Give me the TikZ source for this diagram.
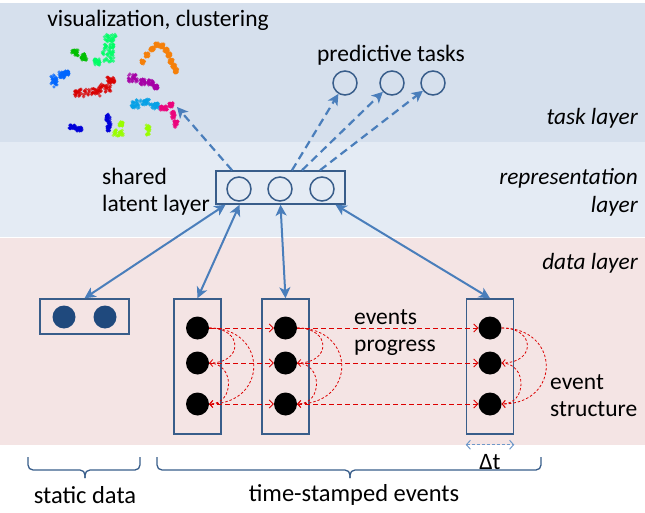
\documentclass[tikz,border=0pt]{standalone}
\usepackage{fontspec}
\setmainfont{Carlito}
\usetikzlibrary{arrows.meta}

\definecolor{taskbg}{RGB}{214,224,237}
\definecolor{reprbg}{RGB}{228,235,244}
\definecolor{databg}{RGB}{244,228,228}
\definecolor{boxblue}{RGB}{56,93,138}
\definecolor{arrowblue}{RGB}{74,126,187}
\definecolor{navy}{RGB}{31,73,125}
\definecolor{evred}{RGB}{220,0,0}

% small scatter clump: colour, x, y (downwards), x-spread, y-spread
\newcommand\clump[5]{%
  \foreach \k in {1,...,30}{%
    \pgfmathsetmacro\dx{#4*rand}%
    \pgfmathsetmacro\dy{#5*rand}%
    \fill[#1,opacity=0.7] (#2+\dx,-#3+\dy) circle (1.8);}}

\tikzset{
  unit/.style={circle, draw=boxblue, line width=1.5pt, minimum size=24pt, inner sep=0},
  staticdot/.style={circle, fill=navy, minimum size=23pt, inner sep=0},
  eventdot/.style={circle, fill=black, minimum size=23pt, inner sep=0},
  frame/.style={draw=boxblue, line width=1.5pt, inner sep=0},
  link/.style={arrowblue, line width=2pt,
    {Stealth[length=11pt,width=11pt,inset=3pt]}-{Stealth[length=11pt,width=11pt,inset=3pt]}},
  taskarrow/.style={arrowblue, line width=2.2pt, dash pattern=on 8pt off 5pt,
    -{Stealth[length=11pt,width=11pt,inset=3pt]}},
  progressarrow/.style={evred, line width=0.9pt, dash pattern=on 5pt off 3pt,
    -{Straight Barb[length=4pt,width=8pt]}},
  structarc/.style={evred, line width=0.8pt, dash pattern=on 2.5pt off 2pt,
    -{Straight Barb[length=3pt,width=7pt]}},
  dtarrow/.style={arrowblue!80, line width=1pt, dash pattern=on 3pt off 2pt,
    {Straight Barb[length=4pt,width=9pt]}-{Straight Barb[length=4pt,width=9pt]}},
  bracket/.style={boxblue, line width=1.3pt, rounded corners=5pt},
  lbl/.style={font=\fontsize{23.5}{27}\selectfont, inner sep=0},
  biglbl/.style={font=\fontsize{24.5}{27}\selectfont, inner sep=0},
  layerlbl/.style={font=\fontsize{23.3}{28}\selectfont\itshape, inner sep=0, align=right, anchor=east},
}

\begin{document}
\begin{tikzpicture}[x=1pt,y=1pt]
\useasboundingbox (0,0) rectangle (645,-513);

% layer bands
\fill[taskbg] (0,-3) rectangle (645,-142);
\fill[reprbg] (0,-142) rectangle (645,-237);
\fill[databg] (0,-238) rectangle (645,-445);

% layer names
\node[layerlbl] (ltask) at (638,-118) {task layer};
\node[layerlbl] (lrepr) at (638,-192) {representation\\layer};
\node[layerlbl] (ldata) at (638,-263) {data layer};

% embedding scatter
\pgfmathsetseed{7}
\clump{green!75!black}{75}{53}{4}{3}
\clump{green!75!black}{84}{57}{3}{3}
\clump{green!60!cyan}{110}{38}{6}{4}
\clump{green!60!cyan}{109}{48}{5}{4}
\clump{green!60!cyan}{108}{57}{6}{5}
\clump{green!60!cyan}{97}{62}{3}{3}
\foreach \p/\q in {143/62,147/55,152/49,157/45,162/46,166/50,169/55,171/61,174/66,176/71}{
  \clump{orange!85!brown}{\p}{\q}{2}{2}}
\clump{blue!60!cyan}{54}{81}{3}{6}
\clump{blue!60!cyan}{62}{75}{3}{3}
\clump{blue!60!cyan}{67}{73}{2}{2}
\clump{red!85!black}{80}{93}{6}{4}
\clump{red!85!black}{94}{92}{6}{4}
\clump{red!85!black}{105}{88}{6}{4}
\clump{red!85!black}{111}{80}{4}{3}
\clump{violet!70!magenta}{133}{78}{5}{4}
\clump{violet!70!magenta}{143}{82}{3}{3}
\clump{violet!70!magenta}{151}{83}{3}{3}
\clump{violet!70!magenta}{156}{87}{2}{2}
\clump{cyan!90!blue}{135}{104}{4}{4}
\clump{cyan!90!blue}{145}{102}{5}{3}
\clump{cyan!90!blue}{155}{106}{4}{3}
\clump{magenta!85!red}{164}{108}{4}{2}
\clump{magenta!85!red}{171}{105}{2}{2}
\clump{magenta!85!red}{173}{115}{2}{4}
\clump{magenta!85!red}{176}{124}{2}{3}
\clump{blue!85!black}{72}{127}{3}{2}
\clump{blue!85!black}{79}{129}{3}{2}
\clump{blue!85!black}{108}{118}{2}{4}
\clump{blue!85!black}{109}{127}{2}{4}
\clump{lime!80!green}{118}{133}{5}{3}
\clump{lime!80!green}{121}{124}{2}{2}
\clump{lime!80!green}{148}{130}{2}{5}

\node[lbl] (vislbl) at (158,-20) {visualization, clustering};
\coordinate (visend) at (177,-107);

% predictive tasks
\node[lbl] (predlbl) at (391,-55) {predictive tasks};
\node[unit] (t1) at (345,-83) {};
\node[unit] (t2) at (392,-83) {};
\node[unit] (t3) at (433,-83) {};

% shared latent layer
\node[frame, minimum width=129pt, minimum height=33pt] (latent) at (280.5,-187.5) {};
\node[unit] (h1) at (239,-189) {};
\node[unit] (h2) at (280,-189) {};
\node[unit] (h3) at (322,-189) {};
\node[lbl, anchor=west, align=left] (sharedlbl) at (102,-192) {shared\\latent layer};

\draw[taskarrow] ([xshift=-48.5pt]latent.north) -- (visend);
\draw[taskarrow] ([xshift=11.5pt]latent.north) -- (t1);
\draw[taskarrow] ([xshift=21.5pt]latent.north) -- (t2);
\draw[taskarrow] ([xshift=39.5pt]latent.north) -- (t3);

% static data
\node[frame, minimum width=89pt, minimum height=35pt] (static) at (84.5,-316.5) {};
\node[staticdot] (s1) at (64,-317) {};
\node[staticdot] (s2) at (105,-317) {};

% time-stamped event columns
\foreach \c/\x in {1/197.5,2/285.5,3/490}{
  \node[frame, minimum width=47pt, minimum height=135pt] (col\c) at (\x,-366.5) {};
  \node[eventdot] (e\c a) at (\x,-328) {};
  \node[eventdot] (e\c b) at (\x,-363) {};
  \node[eventdot] (e\c c) at (\x,-404) {};
}

% links between the latent layer and the data
\draw[link] ([xshift=-55pt]latent.south) -- (static.north);
\draw[link] ([xshift=-41pt]latent.south) -- (col1.north);
\draw[link] (latent.south) -- (col2.north);
\draw[link] ([xshift=55pt]latent.south) -- (col3.north);

% events progress
\foreach \r in {a,b,c}{
  \draw[progressarrow] (e1\r) -- (e2\r);
  \draw[progressarrow] (e2\r) -- (e3\r);
}

% event structure
\foreach \c in {1,2,3}{
  \draw[structarc] (e\c a.east) to[out=0,in=0,looseness=2.5] (e\c b.east);
  \draw[structarc] (e\c b.east) to[out=0,in=0,looseness=1.6] (e\c c.east);
  \draw[structarc] (e\c a.east) to[out=0,in=0,looseness=2] (e\c c.east);
}

\node[lbl, anchor=west, align=left] (proglbl) at (354,-332.5) {events\\progress};
\node[lbl, anchor=west, align=left] (structlbl) at (550,-396) {event\\structure};

% time step
\draw[dtarrow] ([yshift=-10pt]col3.south west) -- ([yshift=-10pt]col3.south east);
\node[lbl] (dtlbl) at (490,-462) {Δt};

% brackets under the data
\draw[bracket] (28,-457) -- (28,-470) -- (85,-470) -- (85,-478);
\draw[bracket] (140,-457) -- (140,-470) -- (85,-470) -- (85,-478);
\draw[bracket] (157,-457) -- (157,-470) -- (350,-470) -- (350,-478);
\draw[bracket] (541,-457) -- (541,-470) -- (350,-470) -- (350,-478);
\node[biglbl] (staticlbl) at (85,-495) {static data};
\node[biglbl] (eventslbl) at (354,-495) {time-stamped events};
\end{tikzpicture}
\end{document}
